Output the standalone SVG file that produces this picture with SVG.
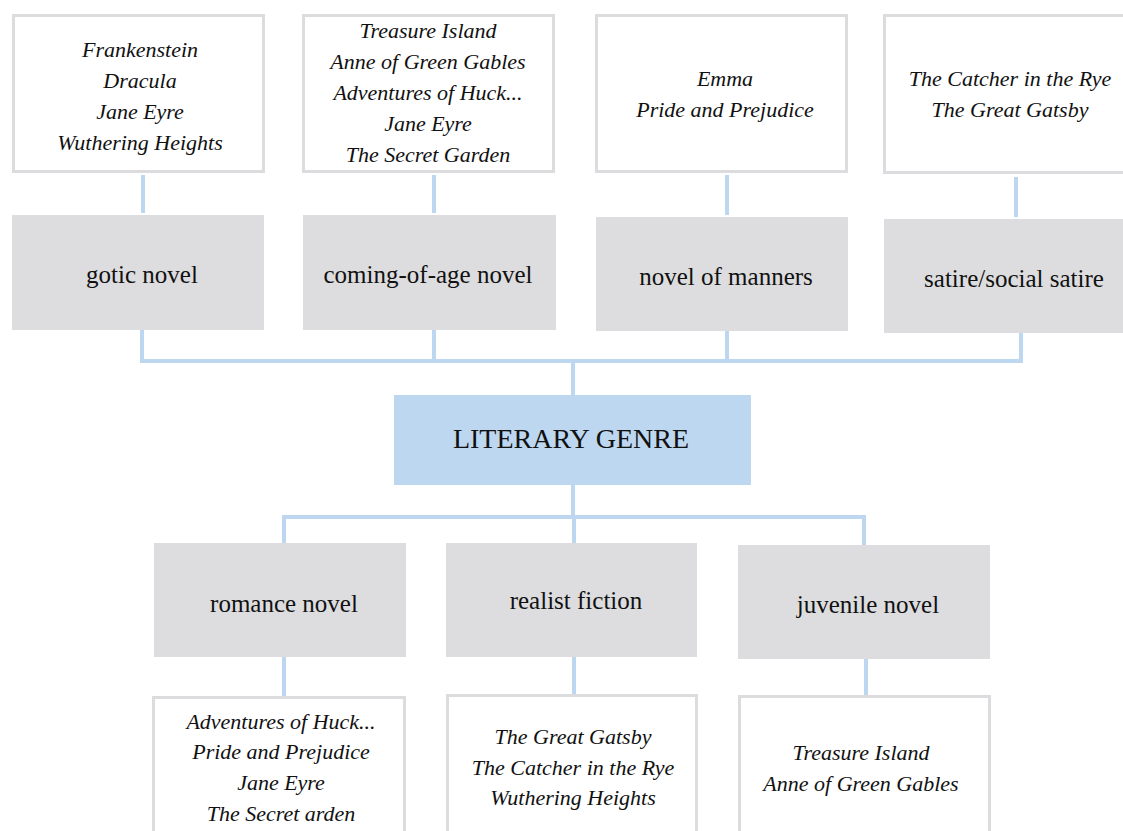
<svg xmlns="http://www.w3.org/2000/svg" width="1123" height="831" viewBox="0 0 1123 831">
<style>
.list{fill:#fff;stroke:#dcdcde;stroke-width:3}
.cat{fill:#dddddf}
.root{fill:#bdd7f0}
.conn{fill:none;stroke:#bdd7f0;stroke-width:4}
.it{font-family:"Liberation Serif","Times New Roman",serif;font-style:italic;font-size:22px;fill:#111;text-anchor:middle}
.lb{font-family:"Liberation Serif","Times New Roman",serif;font-size:25px;fill:#111;text-anchor:middle}
.rt{font-family:"Liberation Serif","Times New Roman",serif;font-size:28px;fill:#111;text-anchor:middle}
</style>
<rect width="1123" height="831" fill="#fff"/>
<g id="connectors">
<path class="conn" d="M143 175V213M434 175V213M727 175V215M1016 177V217"/>
<path class="conn" d="M142 330V361H1021V333M434 330V361M727 331V361M573 361V395"/>
<path class="conn" d="M573 485V517M284 543V517H864V545M574 517V543"/>
<path class="conn" d="M284 657V697M574 657V695M866 659V697"/>
</g>
<g id="list-gothic"><rect class="list" x="13.5" y="15.5" width="250" height="156"/>
<text class="it" x="140" y="57">Frankenstein</text><text class="it" x="140" y="88">Dracula</text><text class="it" x="140" y="119">Jane Eyre</text><text class="it" x="140" y="150">Wuthering Heights</text></g>
<g id="list-coming"><rect class="list" x="303.5" y="15.5" width="250" height="156"/>
<text class="it" x="428" y="38">Treasure Island</text><text class="it" x="428" y="69">Anne of Green Gables</text><text class="it" x="428" y="100">Adventures of Huck...</text><text class="it" x="428" y="131">Jane Eyre</text><text class="it" x="428" y="162">The Secret Garden</text></g>
<g id="list-manners"><rect class="list" x="596.5" y="15.5" width="250" height="156"/>
<text class="it" x="725" y="86">Emma</text><text class="it" x="725" y="117">Pride and Prejudice</text></g>
<g id="list-satire"><rect class="list" x="884.5" y="15.5" width="252" height="157"/>
<text class="it" x="1010" y="86">The Catcher in the Rye</text><text class="it" x="1010" y="117">The Great Gatsby</text></g>
<g id="gothic"><rect class="cat" x="12" y="215" width="252" height="115"/><text class="lb" x="142" y="283">gotic novel</text></g>
<g id="coming"><rect class="cat" x="303" y="215" width="253" height="115"/><text class="lb" x="428" y="283">coming-of-age novel</text></g>
<g id="manners"><rect class="cat" x="596" y="217" width="252" height="114"/><text class="lb" x="726" y="285">novel of manners</text></g>
<g id="satire"><rect class="cat" x="884" y="219" width="240" height="114"/><text class="lb" x="1014" y="287">satire/social satire</text></g>
<g id="root"><rect class="root" x="394" y="395" width="357" height="90"/><text class="rt" x="571" y="448">LITERARY GENRE</text></g>
<g id="romance"><rect class="cat" x="154" y="543" width="252" height="114"/><text class="lb" x="284" y="612">romance novel</text></g>
<g id="realist"><rect class="cat" x="446" y="543" width="251" height="114"/><text class="lb" x="576" y="609">realist fiction</text></g>
<g id="juvenile"><rect class="cat" x="738" y="545" width="252" height="114"/><text class="lb" x="868" y="613">juvenile novel</text></g>
<g id="list-romance"><rect class="list" x="153.5" y="697.5" width="251" height="150"/>
<text class="it" x="281" y="729">Adventures of Huck...</text><text class="it" x="281" y="759">Pride and Prejudice</text><text class="it" x="281" y="790">Jane Eyre</text><text class="it" x="281" y="821">The Secret arden</text></g>
<g id="list-realist"><rect class="list" x="447.5" y="695.5" width="249" height="150"/>
<text class="it" x="573" y="744">The Great Gatsby</text><text class="it" x="573" y="775">The Catcher in the Rye</text><text class="it" x="573" y="805">Wuthering Heights</text></g>
<g id="list-juvenile"><rect class="list" x="739.5" y="696.5" width="250" height="150"/>
<text class="it" x="861" y="760">Treasure Island</text><text class="it" x="861" y="791">Anne of Green Gables</text></g>
</svg>
